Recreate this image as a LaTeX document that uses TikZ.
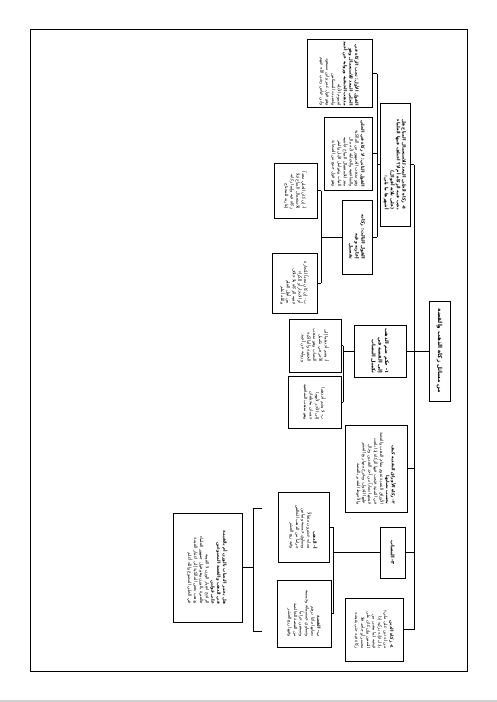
\documentclass[tikz,border=0pt]{standalone}
\usepackage{fontspec}
\newfontfamily\arabicfont[Script=Arabic]{DejaVu Sans}
\TeXXeTstate=1
\newcommand\rl[1]{\beginR #1\endR}
\usepackage{tikz}
\tikzset{
  box/.style={rectangle,draw,line width=1pt,rotate=-90,align=right,inner sep=2pt,font=\arabicfont\fontsize{4.3}{5.8}\selectfont},
  title/.style={box,font=\arabicfont\bfseries\fontsize{5}{6.6}\selectfont},
  line/.style={line width=1pt}
}

\begin{document}
\begin{tikzpicture}[x=1pt,y=-1pt]
\useasboundingbox (0,0) rectangle (497,702);
\fill[gray!35] (0,700) rectangle (497,702);
\draw[line] (30.5,29.7) rectangle (467,671.7);

\node[title, minimum height=21pt, minimum width=100pt, font=\arabicfont\bfseries\fontsize{5.6}{7}\selectfont] (root) at (439.5,351) {\rl{من مسائل زكاة الذهب والفضة}};

\node[title, minimum height=30pt, minimum width=123pt, inner sep=1pt, font=\arabicfont\bfseries\fontsize{4.5}{5.9}\selectfont] (a) at (395,164.5) {\rl{٥- زكاة الحلي المعد للاستعمال المباح هل}\\ \rl{تجب فيه الزكاة أم لا؟ اختلف فيها العلماء}\\ \rl{(على ثلاثة أقوال)}\\ \rl{أشهرها ما يلي:}};
\node[box, minimum height=65pt, minimum width=67pt] (b1) at (339.5,73.5) {\textbf{\rl{القول الأول: تجب الزكاة في}}\\ \textbf{\rl{الحلي المعد للاستعمال وهو}}\\ \textbf{\rl{مذهب الحنفية ورواية عن أحمد}}\\ \rl{لعموم الأدلة}\\ \rl{ولحديث المسكتين}\\ \rl{وهو قول عمر وابن مسعود}\\ \rl{وابن عباس رضي الله عنهم}};
\node[box, minimum height=48pt, minimum width=73pt] (b2) at (348,153.5) {\textbf{\rl{القول الثاني: لا زكاة في الحلي}}\\ \rl{وهو مذهب الجمهور من المالكية}\\ \rl{والشافعية والحنابلة لأنه مال}\\ \rl{معد للاستعمال المباح فأشبه}\\ \rl{الثياب وعوامل الإبل والبقر}\\ \rl{وهو قول جمع من الصحابة}};
\node[title, minimum height=30pt, minimum width=74pt, font=\arabicfont\bfseries\fontsize{4.6}{6}\selectfont] (b3) at (357,237) {\rl{القول الثالث: زكاته}\\ \rl{إعارته وفيه}\\ \rl{تفصيل}};
\node[box, minimum height=43pt, minimum width=55pt] (c1) at (295.5,190.5) {\rl{أ- إن كان الحلي معداً}\\ \rl{للاستعمال المباح فلا}\\ \rl{زكاة فيه وإنما زكاته}\\ \rl{إعارته للمحتاج}};
\node[box, minimum height=45pt, minimum width=60pt] (c2) at (294.5,283) {\rl{ب- إن كان معداً للتجارة}\\ \rl{أو الادخار أو للكراء}\\ \rl{ففيه الزكاة بلا خلاف}\\ \rl{بين أهل العلم}\\ \rl{والله أعلم}};

\node[title, minimum height=52pt, minimum width=52pt] (q1) at (380,351) {\rl{١- حكم ضم الذهب}\\ \rl{إلى الفضة في}\\ \rl{تكميل النصاب}};
\node[box, minimum height=52pt, minimum width=53pt] (d1) at (315,345.5) {\rl{أ- يضم أحدهما إلى}\\ \rl{الآخر في تكميل}\\ \rl{النصاب وهو مذهب}\\ \rl{الحنفية والمالكية}\\ \rl{ورواية عن أحمد}};
\node[box, minimum height=53pt, minimum width=52pt] (d2) at (314.5,402) {\rl{ب- لا يضم أحدهما}\\ \rl{إلى الآخر لأنهما}\\ \rl{جنسان مختلفان}\\ \rl{وهو مذهب الشافعية}};

\node[box, minimum height=62pt, minimum width=87pt] (q2) at (376,468.5) {\textbf{\rl{٢- زكاة الأوراق النقدية كيف}}\\ \textbf{\rl{يحسب نصابها}}\\ \rl{الأوراق النقدية تقوم مقام الذهب والفضة}\\ \rl{في الثمنية فتجب فيها الزكاة إذا بلغت}\\ \rl{قيمتها نصاباً من أحد النقدين وحال}\\ \rl{عليها الحول، ويخرج منها ربع العشر}\\ \rl{والأحوط التقدير بالفضة}};

\node[title, minimum height=25pt, minimum width=51pt] (q3) at (392.5,552.5) {\rl{٣- النصاب}};
\node[box, minimum height=51pt, minimum width=70pt] (e1) at (303.5,527) {\textbf{\rl{أ- الذهب}}\\ \rl{نصابه عشرون مثقالاً}\\ \rl{ويساوي خمسة وثمانين}\\ \rl{جراماً من الذهب الخالص}\\ \rl{وفيه ربع العشر}};
\node[box, minimum height=54pt, minimum width=67pt] (e2) at (304,613.5) {\textbf{\rl{ب- الفضة}}\\ \rl{نصابها مائتا درهم}\\ \rl{وتساوي خمسمائة وخمسة}\\ \rl{وتسعين جراماً}\\ \rl{من الفضة الخالصة}\\ \rl{وفيها ربع العشر}};
\node[box, minimum height=69pt, minimum width=109pt] (f) at (207.5,567.5) {\textbf{\rl{هل يعتبر النصاب بالوزن أم بالقيمة}}\\ \textbf{\rl{في الذهب والفضة المصوغين}}\\ \textbf{\rl{على قولين}}\\ \rl{الراجح اعتبار الوزن لا القيمة}\\ \rl{فالعبرة بالوزن وهو قول جمهور العلماء}\\ \rl{وذهب بعض المالكية إلى اعتبار القيمة}\\ \rl{في الحلي المصوغ والله أعلم}};

\node[box, minimum height=58pt, minimum width=63pt] (q4) at (374,629.5) {\textbf{\rl{٤- زكاة الدين}}\\ \rl{من له دين على مليء}\\ \rl{باذل فإنه يزكيه إذا}\\ \rl{قبضه لما مضى من}\\ \rl{السنين وإن كان على}\\ \rl{معسر أو جاحد فلا}\\ \rl{زكاة فيه حتى يقبضه}};

% connectors
\coordinate (busroot) at (414,0);
\coordinate (busa) at (377,0);
\coordinate (busb) at (321,0);
\coordinate (busq) at (343,0);
\coordinate (buse) at (333,0);
\coordinate (brk) at (253,0);
\coordinate (brt) at (262,508);
\coordinate (brb) at (262,631);

\draw[line] (root.south) -- (q1.north);
\draw[line] (busroot |- a.north) -- (busroot |- q4.north);
\foreach \n in {a,q2,q3,q4}
  \draw[line] (\n.north) -- (\n.north -| busroot);

\draw[line] (a.south) -- (a.south -| busa);
\draw[line] (busa |- b1.north) -- (busa |- b3.north);
\foreach \n in {b1,b2,b3}
  \draw[line] (\n.north) -- (\n.north -| busa);

\draw[line] (b3.south) -- (b3.south -| busb);
\draw[line] (busb |- c1.north) -- (busb |- c2.north);
\foreach \n in {c1,c2}
  \draw[line] (\n.north) -- (\n.north -| busb);

\draw[line] (q1.south) -- (q1.south -| busq);
\draw[line] (busq |- d1.north) -- (busq |- d2.north);
\foreach \n in {d1,d2}
  \draw[line] (\n.north) -- (\n.north -| busq);

\draw[line] (q3.south) -- (q3.south -| buse);
\draw[line] (buse |- e1.north) -- (buse |- e2.north);
\foreach \n in {e1,e2}
  \draw[line] (\n.north) -- (\n.north -| buse);

\draw[line] (brt) -- (brt -| brk) -- (brk |- brb) -- (brb);
\draw[line] (f.north) -- (f.north -| brk);
\end{tikzpicture}
\end{document}
